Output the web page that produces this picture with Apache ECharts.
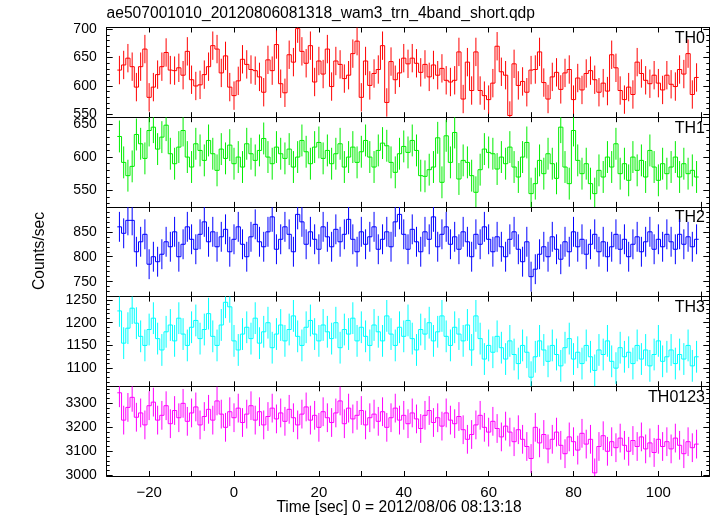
<!DOCTYPE html>
<html>
<head>
<meta charset="utf-8">
<script src="https://cdn.jsdelivr.net/npm/echarts@6/dist/echarts.min.js"></script>
<style>
html,body{margin:0;padding:0;background:#fff;}
#c{width:717px;height:516px;}
</style>
</head>
<body>
<div id="c"></div>
<script>
// ---------------- data ----------------
const titleText = 'ae507001010_20120806081318_wam3_trn_4band_short.qdp';
const xAxisTitle = 'Time [sec] 0 = 2012/08/06 08:13:18';
const yAxisTitle = 'Counts/sec';
const panelNames = ['TH0', 'TH1', 'TH2', 'TH3', 'TH0123'];
const firstBinTime = -27;   // centre of first time bin (s)
const binWidth = 1;         // s
const xTicks = [-20, 0, 20, 40, 60, 80, 100];

const th0 = [
 628,637,649,634,598,634,665,580,598,620,
 634,659,628,627,632,619,661,611,600,602,
 620,634,671,665,623,653,598,583,609,647,
 638,629,627,616,589,646,627,673,
 604,588,655,642,701,661,640,671,607,644,
 621,665,599,644,638,613,619,657,679,580,
 644,601,622,629,671,571,643,611,623,649,
 639,649,640,624,638,616,637,619,631,610,
 607,610,
 660,577,642,592,660,592,583,576,605,670,
 625,619,548,639,601,608,589,628,629,660,
 606,577,616,624,594,623,629,576,614,593,
 622,627,611,589,605,591,655,632,592,576,
 598,585,642,622,610,604,619,605,593,619,
 603,599,629,621,657,585,615
];
const th1 = [
 631,592,572,586,634,620,598,640,645,612,
 630,648,605,590,615,640,600,585,620,610,
 595,625,605,580,612,598,618,590,600,585,
 620,605,595,610,628,600,590,615,605,598,
 612,585,600,625,608,590,615,622,598,610,
 590,605,620,585,600,615,592,608,625,600,
 585,610,
 621,617,592,577,605,616,607,625,610,572,
 571,581,585,629,562,632,592,637,567,595,
 592,572,547,581,612,607,605,582,
 600,590,615,585,570,600,622,545,560,595,
 575,605,590,568,645,585,560,640,595,575,
 590,560,545,580,570,600,585,620,575,590,
 565,600,580,595,570,610,585,565,590,575,
 585,600,570,590,575,580,570
];
const th2 = [
 860,847,873,873,810,830,845,785,800,790,
 805,830,820,850,800,825,860,835,815,845,
 870,830,850,820,840,855,810,835,860,825,
 800,840,865,830,820,850,880,815,835,860,
 845,810,885,870,825,850,835,815,860,840,
 820,855,830,845,875,835,810,850,825,840,
 860,815,835,850,820,870,885,845,815,855,
 830,810,850,835,880,820,845,860,825,840,
 815,850,830,800,845,825,860,835,810,840,
 820,800,835,850,815,790,830,760,775,805,
 820,800,840,815,795,830,810,850,820,835,
 805,825,845,810,830,800,820,845,815,835,
 800,825,840,810,830,850,815,835,820,845,
 830,815,845,825,840,820,835
];
const th3 = [
 1226,1155,1188,1232,1199,1170,1150,1185,1210,1165,
 1140,1180,1195,1160,1210,1175,1150,1190,1205,1165,
 1185,1220,1170,1150,1195,1245,1235,1160,1140,1175,
 1190,1165,1210,1155,1180,1200,1145,1175,1195,1160,
 1185,1215,1170,1150,1190,1205,1175,1160,1195,1180,
 1165,1200,1145,1185,1175,1210,1160,1190,1170,1150,
 1195,1180,1160,1215,1175,1150,1190,1170,1205,1165,
 1140,1185,1175,1200,1160,1180,1215,1170,1150,1190,
 1175,1160,1195,1140,1215,1165,1120,1150,1135,1170,
 1145,1120,1160,1130,1110,1150,1135,1080,1125,1160,
 1140,1115,1150,1130,1105,1145,1165,1120,1135,1110,
 1150,1125,1095,1140,1130,1160,1115,1100,1145,1125,
 1135,1110,1150,1120,1140,1105,1130,1160,1115,1125,
 1140,1110,1130,1120,1150,1105,1125
];
const th0123 = [
 3344,3230,3283,3325,3242,3260,3210,3290,3305,3230,
 3250,3290,3215,3270,3240,3300,3225,3260,3285,3210,
 3245,3275,3230,3310,3255,3200,3265,3240,3280,3220,
 3255,3290,3230,3265,3210,3245,3280,3235,3260,3225,
 3275,3240,3210,3255,3285,3230,3250,3200,3265,3240,
 3220,3260,3310,3215,3280,3235,3250,3270,3210,3240,
 3255,3225,3265,3200,3240,3280,3230,3250,3215,3260,
 3235,3195,3250,3270,3220,3240,3205,3260,3230,3215,
 3245,3190,3150,3170,3210,3250,3200,3180,3225,3195,
 3160,3205,3180,3140,3190,3150,3120,3070,3200,3135,
 3170,3110,3150,3180,3125,3090,3160,3140,3105,3175,
 3130,3150,3010,3120,3165,3100,3140,3115,3155,3125,
 3100,3145,3120,3160,3110,3135,3095,3150,3120,3140,
 3110,3155,3125,3090,3140,3115,3130
];
// typical 1-sigma error per band (counts/sec)
const errTH0 = 25, errTH1 = 24, errTH2 = 30, errTH3 = 35, errTH0123 = 60;

// ---------------- layout / style ----------------
const FONT = '"Liberation Sans", Arial, Helvetica, sans-serif';
const panels = [
  {name: panelNames[0], values: th0,    err: errTH0,    color: '#ff0000', min: 545,  max: 703,    major: 50,  minor: 10},
  {name: panelNames[1], values: th1,    err: errTH1,    color: '#00ee00', min: 525,  max: 660,    major: 50,  minor: 10},
  {name: panelNames[2], values: th2,    err: errTH2,    color: '#0000ff', min: 720,  max: 900,    major: 50,  minor: 10},
  {name: panelNames[3], values: th3,    err: errTH3,    color: '#00ffff', min: 1060, max: 1257.5, major: 50,  minor: 10},
  {name: panelNames[4], values: th0123, err: errTH0123, color: '#ff00ff', min: 2997, max: 3371,   major: 100, minor: 20}
];
const gridLeft = 106.7, gridRight = 7.7, gridH = 89.7;
const gridTops = [27.5, 117.2, 206.9, 296.6, 386.3];
const xMin = -30, xMax = 112;

const grids = [], xAxes = [], yAxes = [], series = [], graphics = [];
const axisLineStyle = {color: '#000', width: 1};

panels.forEach((p, k) => {
  const isLast = k === panels.length - 1;
  grids.push({left: gridLeft, right: gridRight, top: gridTops[k], height: gridH, containLabel: false, outerBoundsMode: 'none'});
  ['bottom', 'top'].forEach(pos => {
    xAxes.push({
      gridIndex: k, type: 'value', position: pos, min: xMin, max: xMax, interval: 10,
      axisLine: {show: true, onZero: false, lineStyle: axisLineStyle},
      axisTick: {show: true, inside: true, length: 5, lineStyle: axisLineStyle},
      axisLabel: {
        show: isLast && pos === 'bottom', fontSize: 15, color: '#000', fontFamily: FONT, margin: 9,
        showMinLabel: false, showMaxLabel: false,
        formatter: v => xTicks.indexOf(v) >= 0 ? String(v).replace('-', '\u2212') : ''
      },
      splitLine: {show: false}
    });
  });
  ['left', 'right'].forEach(pos => {
    yAxes.push({
      gridIndex: k, type: 'value', position: pos, min: p.min, max: p.max,
      minInterval: p.major, maxInterval: p.major,
      axisLine: {show: true, onZero: false, lineStyle: axisLineStyle},
      axisTick: {show: true, inside: true, length: 6, lineStyle: axisLineStyle},
      axisLabel: {show: pos === 'left', showMinLabel: false, showMaxLabel: false,
                  fontSize: 14, color: '#000', fontFamily: FONT, margin: 10,
                  formatter: v => String(v)},
      splitLine: {show: false}
    });
    yAxes.push({
      gridIndex: k, type: 'value', position: pos, min: p.min, max: p.max,
      minInterval: p.minor, maxInterval: p.minor,
      axisLine: {show: false, onZero: false},
      axisTick: {show: true, inside: true, length: 3, lineStyle: axisLineStyle},
      axisLabel: {show: false},
      splitLine: {show: false}
    });
  });

  const data = p.values.map((v, i) => [firstBinTime + i * binWidth, v, p.err]);
  const vals = p.values, color = p.color;
  series.push({
    type: 'custom', xAxisIndex: 2 * k, yAxisIndex: 4 * k, clip: true, silent: true,
    data: data, encode: {x: 0, y: 1},
    renderItem: function (params, api) {
      const i = params.dataIndex;
      const t = api.value(0), v = api.value(1), e = api.value(2);
      const h = binWidth / 2;
      const a = api.coord([t - h, v]), b = api.coord([t + h, v]);
      const top = api.coord([t, v + e]), bot = api.coord([t, v - e]);
      const style = {stroke: color, lineWidth: 1, fill: null};
      const children = [
        {type: 'line', shape: {x1: a[0], y1: a[1], x2: b[0], y2: b[1]}, style: style},
        {type: 'line', shape: {x1: top[0], y1: top[1], x2: bot[0], y2: bot[1]}, style: style}
      ];
      if (i > 0) {
        const c = api.coord([t - h, vals[i - 1]]);
        children.push({type: 'line', shape: {x1: c[0], y1: c[1], x2: a[0], y2: a[1]}, style: style});
      }
      return {type: 'group', children: children};
    }
  });

  graphics.push({
    type: 'text', right: 12, top: gridTops[k] + 3,
    style: {text: p.name, fontSize: 16, fontFamily: FONT, fill: '#000'}
  });
});

graphics.push({
  type: 'text', left: 106.6, top: 6,
  style: {text: titleText, fontSize: 15.6, fontFamily: FONT, fill: '#000'}
});
graphics.push({
  type: 'text', x: 399, y: 508,
  style: {text: xAxisTitle, fontSize: 15.6, fontFamily: FONT, fill: '#000', align: 'center', verticalAlign: 'middle'}
});
graphics.push({
  type: 'text', x: 40, y: 251, rotation: Math.PI / 2,
  style: {text: yAxisTitle, fontSize: 15.6, fontFamily: FONT, fill: '#000', align: 'center', verticalAlign: 'middle'}
});

const chart = echarts.init(document.getElementById('c'));
chart.setOption({
  animation: false,
  backgroundColor: '#fff',
  grid: grids,
  xAxis: xAxes,
  yAxis: yAxes,
  series: series,
  graphic: graphics
});
</script>
</body>
</html>
